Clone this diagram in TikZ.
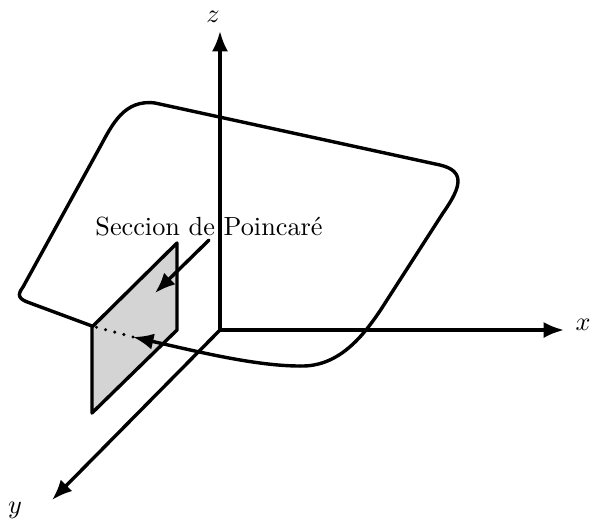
\documentclass[tikz,border=0pt]{standalone}
\usetikzlibrary{arrows.meta}
\begin{document}
\begin{tikzpicture}[x=0.381pt,y=-0.381pt,
  ln/.style={line width=1.3pt, line join=round, line cap=round},
  arr/.style={ln, -{Latex[length=7.8pt,width=6.2pt]}},
  plane/.style={ln, fill=black!17},
  lab/.style={inner sep=2pt}]
\useasboundingbox (0,0) rectangle (591,525);
% axes
\coordinate (O) at (220,330);
\coordinate (Z) at (220,31);
\coordinate (X) at (564,330);
\coordinate (Y) at (52,500);
\draw[arr] (O) -- (Z);
\draw[arr] (O) -- (X);
\draw[arr] (O) -- (Y);
\node[lab] (zl) at (213,17) {$z$};
\node[lab] (xl) at (583,325) {$x$};
\node[lab] (yl) at (15,510) {$y$};
% Poincare section
\coordinate (P1) at (92,327);
\coordinate (P2) at (177,243);
\coordinate (P3) at (177,330);
\coordinate (P4) at (92,413);
\draw[plane] (P1) -- (P2) -- (P3) -- (P4) -- cycle;
% orbit
\coordinate (C0) at (92,326);
\coordinate (CT) at (133,337);
\draw[ln] (C0) -- (30,303) .. controls (18,299) and (17,295) .. (23,287)
  -- (100,147) .. controls (112,125) and (124,99) .. (155,103)
  -- (440,165) .. controls (465,171) and (462,186) .. (443,213)
  -- (387,300) .. controls (365,335) and (340,367) .. (300,366);
\draw[arr] (300,366) .. controls (255,366) and (195,351) .. (CT);
\draw[ln, dash pattern=on 0pt off 3.6pt] (CT) -- (C0);
% label
\node[inner sep=0pt, anchor=base] (lbl) at (209,235) {Seccion de Poincar\'e};
\coordinate (LT) at (155,293);
\draw[arr] ([yshift=-1.5pt]lbl.south) -- (LT);
\end{tikzpicture}
\end{document}
